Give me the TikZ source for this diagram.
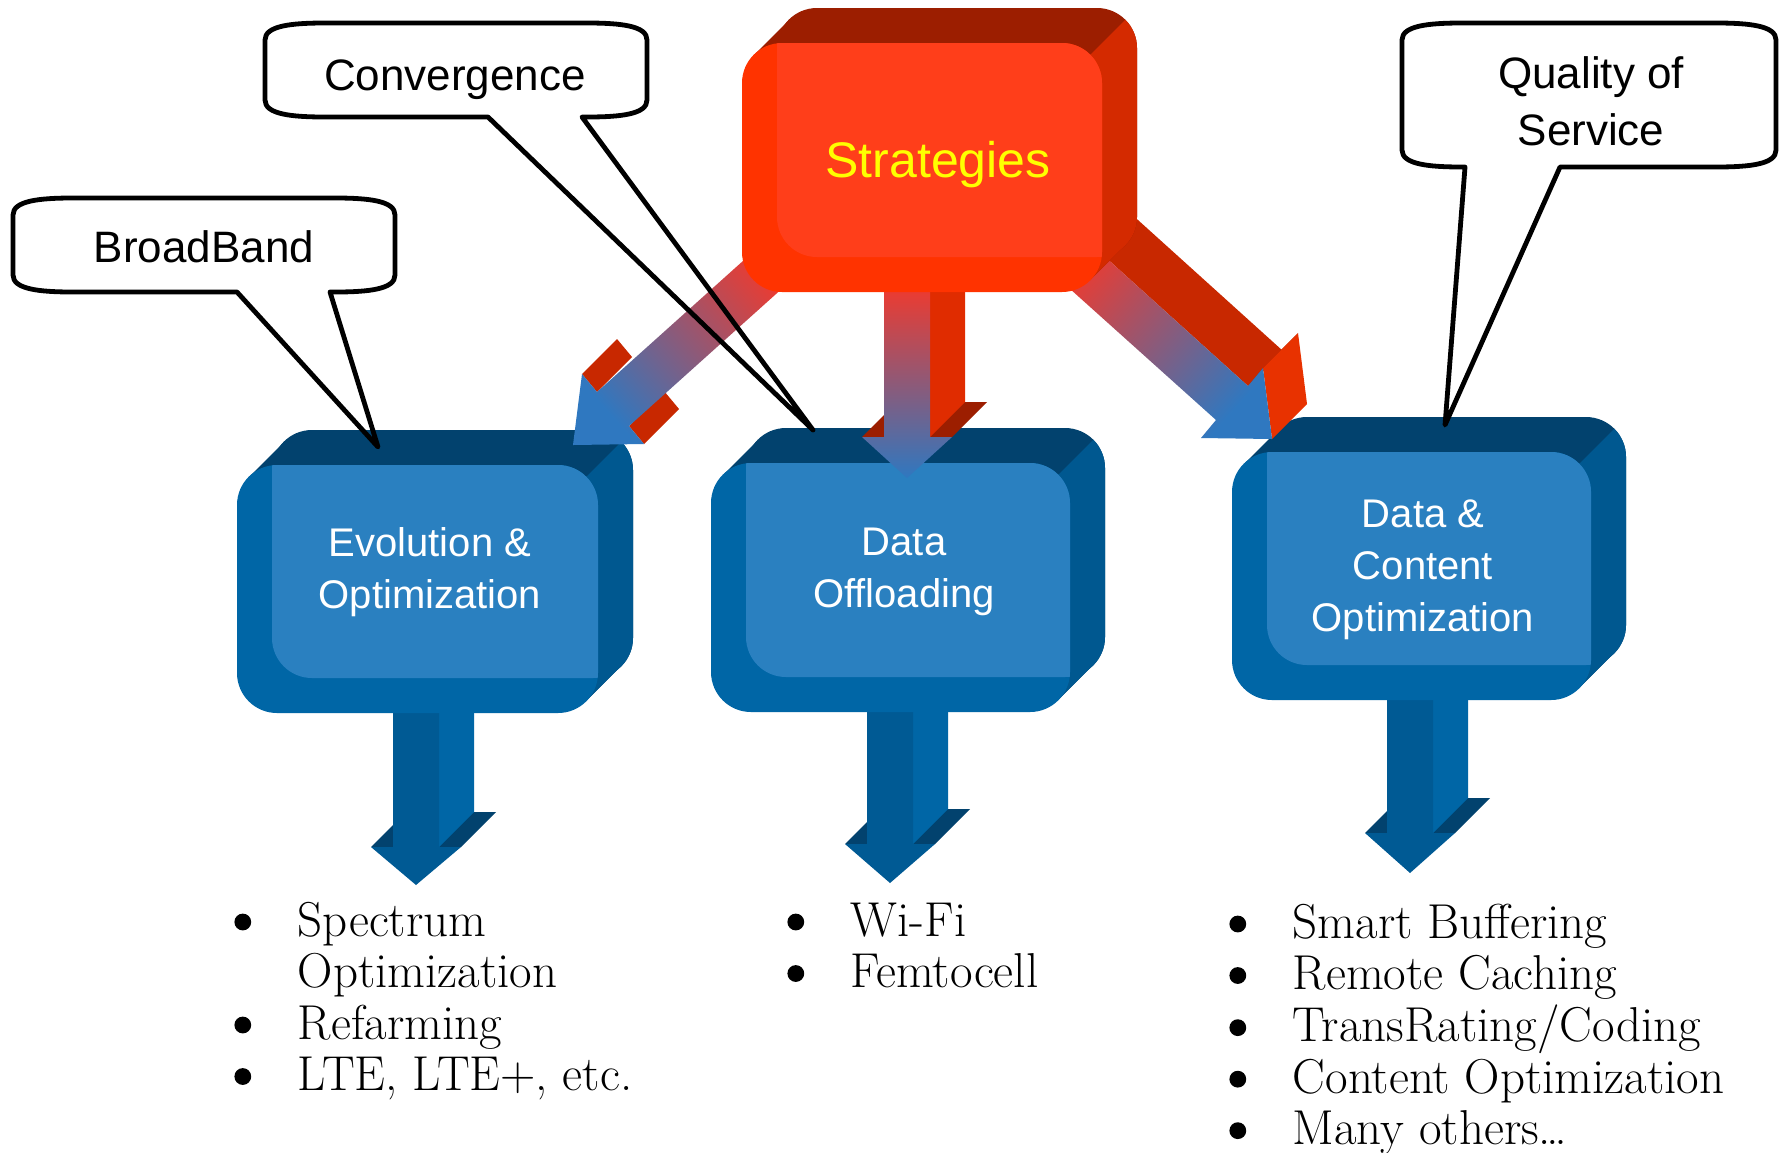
\documentclass[tikz,border=0pt]{standalone}
\usepackage{fontspec}
\newfontfamily\boxfont{Liberation Sans}
\usetikzlibrary{calc}
\definecolor{bluefront}{HTML}{0066A6}
\definecolor{bluelight}{HTML}{2A80C0}
\definecolor{bluetop}{HTML}{02426E}
\definecolor{blueside}{HTML}{005890}
\definecolor{bluearrow}{HTML}{005A94}
\definecolor{redfront}{HTML}{FF3300}
\definecolor{redlight}{HTML}{FF3E1A}
\definecolor{redtop}{HTML}{9C1E00}
\definecolor{redside}{HTML}{D42A00}
\definecolor{redwing}{HTML}{C82800}
\definecolor{redshaft}{HTML}{E02C00}
\definecolor{redhead}{HTML}{E83200}
\definecolor{arrowred}{HTML}{FF3522}
\definecolor{arrowmid}{HTML}{D04868}
\definecolor{arrowblue}{HTML}{2F78C0}
\definecolor{stratyellow}{HTML}{FFFF00}
\tikzset{every picture/.style={line width=0.75pt}}
\tikzset{
  calloutline/.style={draw=black, line width=2.4pt, line join=round},
  labeltext/.style={font=\boxfont\fontsize{22}{28.5}\selectfont, inner sep=0pt},
  boxtext/.style={font=\boxfont\fontsize{20}{26}\selectfont, text=white, align=center, inner sep=0pt},
  strattext/.style={font=\boxfont\fontsize{25}{30}\selectfont, text=stratyellow, inner sep=0pt},
  listtext/.style={font=\fontsize{24.5}{25.75}\selectfont, inner sep=0pt}
}
\newcommand{\listdot}{\tikz[baseline=-7pt]\fill[black] (0,0) circle (4.2pt);}
% 3-D rounded box, front face (#1,#2)-(#3,#4), colours #5front, #5light, #5top, #5side
\newcommand{\solidbox}[5]{%
  \fill[#5top,rounded corners=20pt] ({#1+35},{#2-35}) rectangle ({#3+35},{#4-35});
  \fill[#5top] ({#1+12},{#2+12}) -- ({#1+47},{#2-23}) -- ({#3+23},{#4-47}) -- ({#3-12},{#4-12}) -- cycle;
  \begin{scope}
    \clip[rounded corners=20pt] ({#1+35},{#2-35}) rectangle ({#3+35},{#4-35});
    \fill[#5side] ({#3-400},{#2+400}) -- ({#3+400},{#2-400}) -- ({#3+400},{#4+400}) -- cycle;
  \end{scope}
  \begin{scope}
    \clip ({#1+12},{#2+12}) -- ({#1+47},{#2-23}) -- ({#3+23},{#4-47}) -- ({#3-12},{#4-12}) -- cycle;
    \fill[#5side] ({#3-400},{#2+400}) -- ({#3+400},{#2-400}) -- ({#3+400},{#4+400}) -- cycle;
  \end{scope}
  \fill[#5front,rounded corners=20pt] (#1,#2) rectangle (#3,#4);
  \begin{scope}
    \clip[rounded corners=20pt] ({#1+35},{#2-35}) rectangle ({#3+35},{#4-35});
    \fill[#5light,rounded corners=20pt] (#1,#2) rectangle (#3,#4);
  \end{scope}}
% 3-D down arrow: centre #1, shaft top #2, head base #3, tip #4, wing #5, side #6, face #7
\newcommand{\solidarrow}[7]{%
  \fill[#5] ({#1-45},#3) -- ({#1-10},{#3-35}) -- ({#1+80},{#3-35}) -- ({#1+45},#3) -- cycle;
  \fill[#6] ({#1+23},#2) -- ({#1+58},#2) -- ({#1+58},{#3-35}) -- ({#1+23},#3) -- cycle;
  \path[#7] ({#1-23},#2) -- ({#1+23},#2) -- ({#1+23},#3) -- ({#1+45},#3) -- (#1,#4) -- ({#1-45},#3) -- ({#1-23},#3) -- cycle;}
% callout: left #1, top #2, right #3, bottom #4, tail from #5 and #6 to (#7,#8)
\newcommand{\callout}[8]{%
  \fill[white] (#1,{#2+17}) .. controls (#1,{#2+3}) and ({#1+25},#2) .. ({#1+60},#2) -- ({#3-60},#2) .. controls ({#3-25},#2) and (#3,{#2+3}) .. (#3,{#2+17}) -- (#3,{#4-17}) .. controls (#3,{#4-3}) and ({#3-25},#4) .. ({#3-60},#4) -- ({#1+60},#4) .. controls ({#1+25},#4) and (#1,{#4-3}) .. (#1,{#4-17}) -- cycle;
  \draw[calloutline] (#5,#4) -- (#7,#8) -- (#6,#4) -- ({#3-60},#4) .. controls ({#3-25},#4) and (#3,{#4-3}) .. (#3,{#4-17}) -- (#3,{#2+17}) .. controls (#3,{#2+3}) and ({#3-25},#2) .. ({#3-60},#2) -- ({#1+60},#2) .. controls ({#1+25},#2) and (#1,{#2+3}) .. (#1,{#2+17}) -- (#1,{#4-17}) .. controls (#1,{#4-3}) and ({#1+25},#4) .. ({#1+60},#4) -- cycle;}

\begin{document}
\begin{tikzpicture}[x=0.5pt,y=0.5pt,yscale=-1,xscale=1]
\fill[white] (0,0) rectangle (1780,1152);
\useasboundingbox (0,0) rectangle (1780,1152);

%Shape: Down Arrows under the blue boxes
\solidarrow{416}{690}{847}{885}{bluetop}{bluefront}{fill=bluearrow}
\solidarrow{890}{690}{844}{883}{bluetop}{bluefront}{fill=bluearrow}
\solidarrow{1410}{680}{833}{873}{bluetop}{bluefront}{fill=bluearrow}

%Shape: Blue 3-D boxes
\solidbox{237}{465}{598}{713}{blue}
\solidbox{711}{463}{1070}{712}{blue}
\solidbox{1232}{452}{1591}{700}{blue}

%Shape: Red arrow, left
\fill[redwing] (582,374) -- (617,339) -- (632,357) -- (597,392) -- cycle;
\fill[redwing] (644,444) -- (679,409) -- (664,391) -- (629,426) -- cycle;
\shade[top color=arrowred, middle color=arrowmid, bottom color=arrowblue, shading angle=-48] (783,225) -- (597,392) -- (582,374) -- (573,445) -- (644,444) -- (629,426) -- (815,259) -- cycle;
%Shape: Red arrow, middle
\solidarrow{907}{270}{437}{478}{redtop}{redshaft}{top color=arrowred, middle color=arrowmid, bottom color=arrowblue}
%Shape: Red arrow, right
\fill[redwing] (1062,218) -- (1248,386) -- (1283,351) -- (1097,183) -- cycle;
\fill[redtop] (1248,386) -- (1263,368) -- (1298,333) -- (1283,351) -- cycle;
\fill[redhead] (1263,368) -- (1272,439) -- (1307,404) -- (1298,333) -- cycle;
\shade[top color=arrowred, middle color=arrowmid, bottom color=arrowblue, shading angle=48] (1030,253) -- (1216,420) -- (1201,438) -- (1272,439) -- (1263,368) -- (1248,386) -- (1062,218) -- cycle;

%Shape: Red 3-D box
\solidbox{742}{43}{1102}{292}{red}

%Shape: Callouts
\callout{13}{198}{395}{292}{237}{330}{378}{447}
\callout{265}{23}{647}{117}{488}{582}{813}{430}
\callout{1402}{23}{1776}{167}{1465}{1560}{1445}{425}

% Text Node
\node[strattext, anchor=base] (strategies) at (938,177) {Strategies};
% Text Node
\node[boxtext] (evolution) at (430,572) {Evolution \&\\Optimization};
% Text Node
\node[boxtext] (offloading) at (904,572) {Data\\Offloading};
% Text Node
\node[boxtext] (content) at (1423,570) {Data \&\\Content\\Optimization};
% Text Node
\node[labeltext, anchor=base] (broadband) at (204,262) {BroadBand};
% Text Node
\node[labeltext, anchor=base] (convergence) at (455,90) {Convergence};
% Text Node
\node[labeltext, align=center] (quality) at (1591,101) {Quality of\\Service};

% Text Node
\node[listtext, anchor=base west] (evolist) at (234,936) {\begin{tabular}[t]{@{}l@{\hspace{23.3pt}}l@{}}\listdot & Spectrum\\ & Optimization\\ \listdot & Refarming\\ \listdot & LTE, LTE+, etc.\end{tabular}};
% Text Node
\node[listtext, anchor=base west] (offlist) at (787,936) {\begin{tabular}[t]{@{}l@{\hspace{23.3pt}}l@{}}\listdot & Wi-Fi\\ \listdot & Femtocell\end{tabular}};
% Text Node
\node[listtext, anchor=base west] (contlist) at (1229,938) {\begin{tabular}[t]{@{}l@{\hspace{23.3pt}}l@{}}\listdot & Smart Buffering\\ \listdot & Remote Caching\\ \listdot & TransRating/Coding\\ \listdot & Content Optimization\\ \listdot & Many others\ldots\end{tabular}};
\end{tikzpicture}
\end{document}
